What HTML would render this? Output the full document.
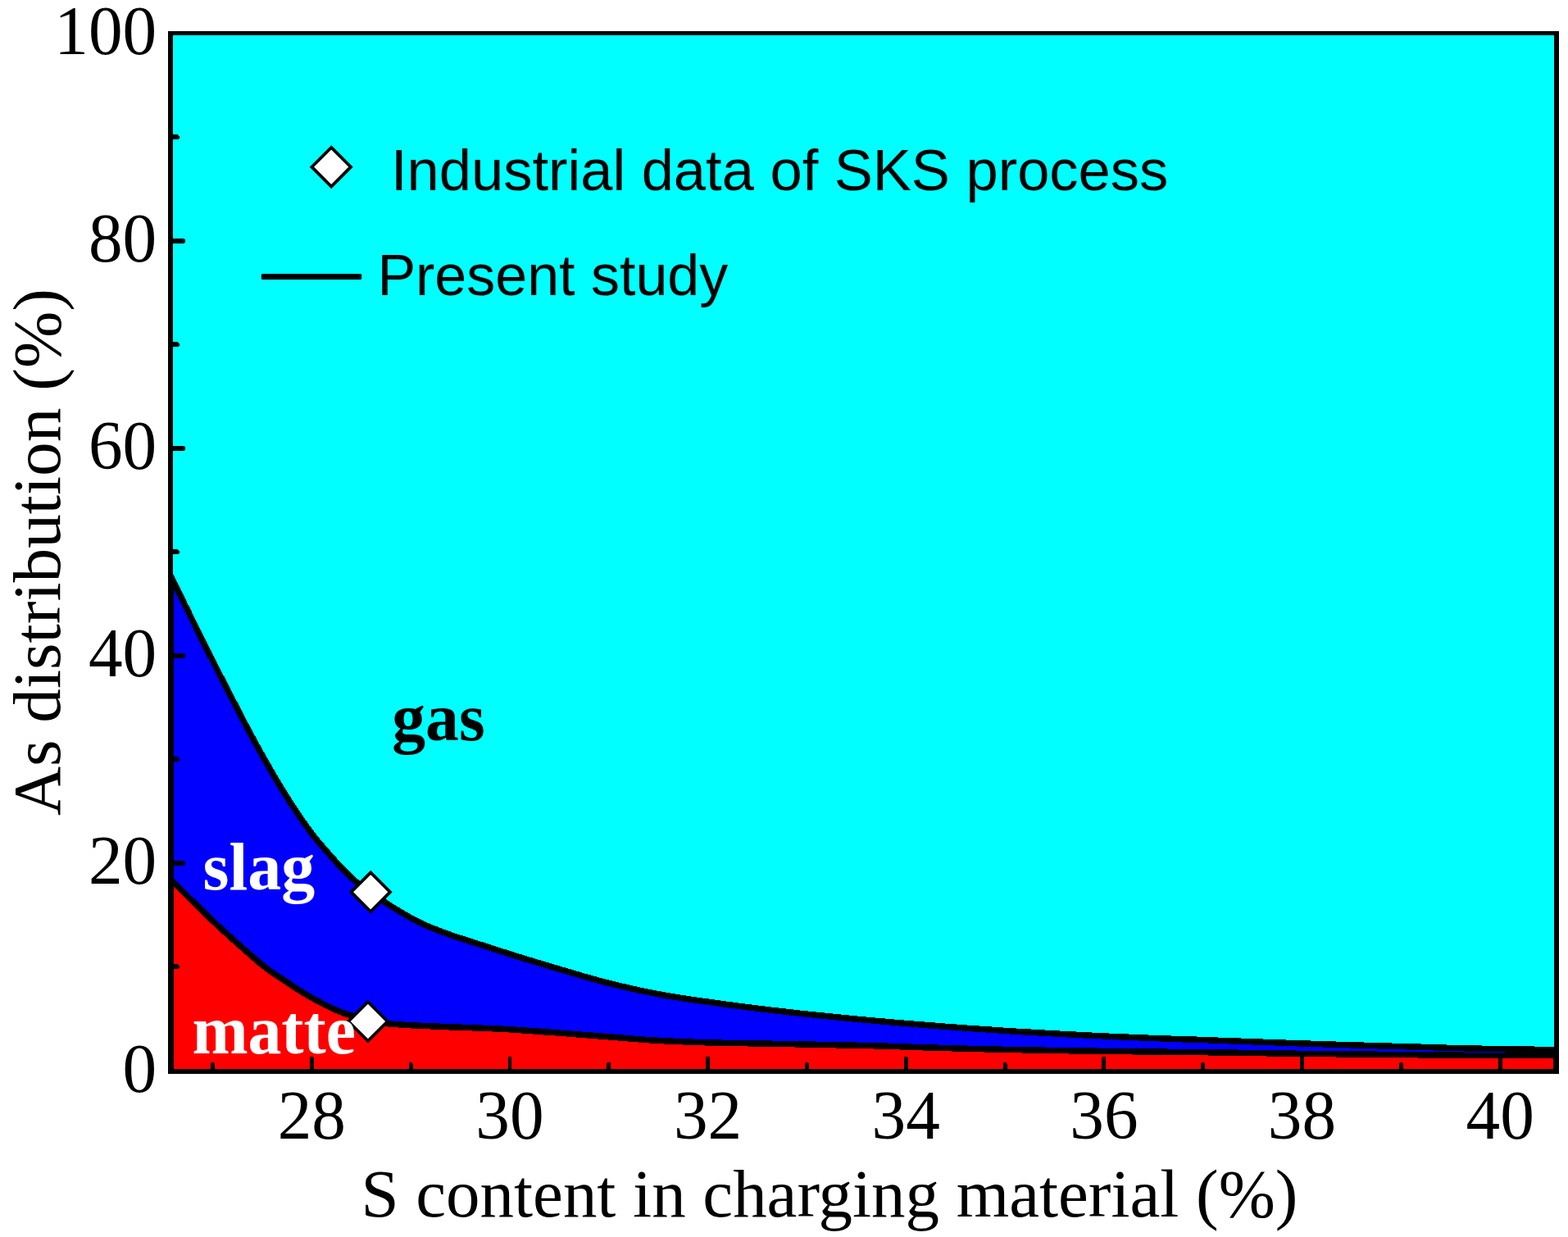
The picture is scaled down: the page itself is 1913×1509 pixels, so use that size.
<!DOCTYPE html>
<html lang="en"><head><meta charset="utf-8"><title>As distribution vs S content in charging material</title>
<style>
html,body{margin:0;padding:0;background:#fff;}
body{width:1913px;height:1509px;overflow:hidden;}
svg{display:block;}
.tk{font-family:"Liberation Serif",serif;font-size:83.3px;fill:#000;}
.lg{font-family:"Liberation Sans",sans-serif;font-size:70.8px;fill:#000;}
.bl{font-family:"Liberation Serif",serif;font-weight:bold;font-size:80px;}
</style></head><body>
<svg width="1913" height="1509" viewBox="0 0 1913 1509">
<rect x="0" y="0" width="1913" height="1509" fill="#fff"/>
<defs><clipPath id="plot"><rect x="208.0" y="41.0" width="1691.2" height="1265.2"/></clipPath></defs>
<g clip-path="url(#plot)" shape-rendering="crispEdges">
<rect x="208.0" y="41.0" width="1691.2" height="1265.2" fill="#00ffff"/>
<path d="M205.0,696.1 L207.9,702.0 L210.8,707.9 L213.7,713.9 L216.6,719.8 L219.6,725.7 L222.5,731.6 L225.4,737.6 L228.3,743.5 L231.2,749.4 L234.1,755.3 L237.0,761.1 L239.9,767.0 L242.9,772.9 L245.8,778.7 L248.7,784.6 L251.6,790.4 L254.5,796.2 L257.4,802.0 L260.3,807.8 L263.2,813.5 L266.1,819.3 L269.1,825.0 L272.0,830.7 L274.9,836.4 L277.8,842.1 L280.7,847.7 L283.6,853.3 L286.5,858.9 L289.4,864.5 L292.4,870.2 L295.3,875.7 L298.2,881.3 L301.1,886.8 L304.0,892.3 L306.9,897.8 L309.8,903.1 L312.7,908.4 L315.6,913.7 L318.6,918.9 L321.5,924.1 L324.4,929.3 L327.3,934.4 L330.2,939.5 L333.1,944.5 L336.0,949.5 L338.9,954.4 L341.9,959.3 L344.8,964.0 L347.7,968.7 L350.6,973.3 L353.5,977.8 L356.4,982.3 L359.3,986.8 L362.2,991.2 L365.1,995.5 L368.1,999.7 L371.0,1003.9 L373.9,1008.0 L376.8,1012.0 L379.7,1015.9 L382.6,1019.7 L385.5,1023.4 L388.4,1026.9 L391.4,1030.3 L394.3,1033.6 L397.2,1037.0 L400.1,1040.4 L403.0,1043.7 L405.9,1047.0 L408.8,1050.2 L411.7,1053.4 L414.6,1056.6 L417.6,1059.7 L420.5,1062.7 L423.4,1065.6 L426.3,1068.4 L429.2,1071.1 L432.1,1073.7 L435.0,1076.2 L437.9,1078.5 L440.9,1080.6 L443.8,1082.6 L446.7,1084.6 L449.6,1086.5 L452.5,1088.5 L455.4,1090.5 L458.3,1092.6 L461.2,1094.6 L464.1,1096.7 L467.1,1098.7 L470.0,1100.7 L472.9,1102.7 L475.8,1104.6 L478.7,1106.5 L481.6,1108.2 L484.5,1110.0 L487.4,1111.7 L490.4,1113.5 L493.3,1115.2 L496.2,1116.8 L499.1,1118.5 L502.0,1120.1 L504.9,1121.7 L507.8,1123.2 L510.7,1124.7 L513.6,1126.1 L516.6,1127.5 L519.5,1128.8 L522.4,1130.0 L525.3,1131.2 L528.2,1132.4 L531.1,1133.6 L534.0,1134.7 L536.9,1135.9 L539.9,1137.0 L542.8,1138.0 L545.7,1139.1 L548.6,1140.1 L551.5,1141.1 L554.4,1142.1 L557.3,1143.1 L560.2,1144.1 L563.1,1145.0 L566.1,1146.0 L569.0,1146.9 L571.9,1147.8 L574.8,1148.8 L577.7,1149.7 L580.6,1150.6 L583.5,1151.5 L586.4,1152.4 L589.4,1153.4 L592.3,1154.3 L595.2,1155.2 L598.1,1156.2 L601.0,1157.1 L603.9,1158.1 L606.8,1159.0 L609.7,1160.0 L612.6,1160.9 L615.6,1161.8 L618.5,1162.7 L621.4,1163.7 L624.3,1164.6 L627.2,1165.5 L630.1,1166.4 L633.0,1167.3 L635.9,1168.2 L638.9,1169.1 L641.8,1170.0 L644.7,1170.9 L647.6,1171.8 L650.5,1172.7 L653.4,1173.6 L656.3,1174.4 L659.2,1175.3 L662.1,1176.2 L665.1,1177.1 L668.0,1177.9 L670.9,1178.8 L673.8,1179.7 L676.7,1180.5 L679.6,1181.4 L682.5,1182.2 L685.4,1183.1 L688.4,1184.0 L691.3,1184.9 L694.2,1185.7 L697.1,1186.6 L700.0,1187.5 L707.1,1189.5 L714.2,1191.6 L721.3,1193.6 L728.4,1195.6 L735.5,1197.5 L742.6,1199.3 L749.7,1201.0 L756.8,1202.7 L763.9,1204.4 L771.0,1206.0 L778.1,1207.6 L785.2,1209.1 L792.3,1210.6 L799.4,1212.0 L806.5,1213.3 L813.6,1214.6 L820.7,1215.8 L827.8,1216.9 L834.9,1218.0 L842.0,1219.1 L849.1,1220.1 L856.2,1221.1 L863.3,1222.1 L870.4,1223.1 L877.5,1224.1 L884.6,1225.1 L891.7,1226.0 L898.8,1227.0 L905.9,1227.9 L913.0,1228.8 L920.1,1229.7 L927.2,1230.6 L934.3,1231.4 L941.4,1232.3 L948.5,1233.1 L955.6,1233.9 L962.7,1234.7 L969.8,1235.5 L976.9,1236.3 L984.0,1237.0 L991.1,1237.8 L998.2,1238.5 L1005.3,1239.3 L1012.4,1240.0 L1019.5,1240.7 L1026.6,1241.4 L1033.7,1242.1 L1040.8,1242.7 L1047.9,1243.4 L1055.0,1244.1 L1062.1,1244.7 L1069.2,1245.3 L1076.3,1246.0 L1083.4,1246.6 L1090.5,1247.2 L1097.6,1247.8 L1104.7,1248.4 L1111.8,1249.0 L1118.9,1249.6 L1126.0,1250.2 L1133.1,1250.7 L1140.2,1251.3 L1147.3,1251.8 L1154.4,1252.4 L1161.5,1252.9 L1168.6,1253.4 L1175.7,1253.9 L1182.8,1254.4 L1189.9,1254.9 L1197.0,1255.4 L1204.1,1255.9 L1211.2,1256.4 L1218.3,1256.8 L1225.4,1257.3 L1232.5,1257.8 L1239.6,1258.2 L1246.7,1258.6 L1253.8,1259.1 L1260.9,1259.5 L1268.0,1259.9 L1275.1,1260.3 L1282.2,1260.7 L1289.3,1261.1 L1296.4,1261.4 L1303.6,1261.8 L1310.7,1262.2 L1317.8,1262.5 L1324.9,1262.9 L1332.0,1263.2 L1339.1,1263.6 L1346.2,1263.9 L1353.3,1264.2 L1360.4,1264.5 L1367.5,1264.9 L1374.6,1265.2 L1381.7,1265.5 L1388.8,1265.8 L1395.9,1266.0 L1403.0,1266.3 L1410.1,1266.6 L1417.2,1266.8 L1424.3,1267.1 L1431.4,1267.3 L1438.5,1267.6 L1445.6,1267.8 L1452.7,1268.0 L1459.8,1268.3 L1466.9,1268.5 L1474.0,1268.8 L1481.1,1269.0 L1488.2,1269.3 L1495.3,1269.6 L1502.4,1269.8 L1509.5,1270.1 L1516.6,1270.4 L1523.7,1270.6 L1530.8,1270.9 L1537.9,1271.2 L1545.0,1271.4 L1552.1,1271.7 L1559.2,1271.9 L1566.3,1272.2 L1573.4,1272.4 L1580.5,1272.7 L1587.6,1272.9 L1594.7,1273.1 L1601.8,1273.4 L1608.9,1273.6 L1616.0,1273.8 L1623.1,1274.0 L1630.2,1274.2 L1637.3,1274.5 L1644.4,1274.7 L1651.5,1274.9 L1658.6,1275.1 L1665.7,1275.3 L1672.8,1275.5 L1679.9,1275.7 L1687.0,1275.9 L1694.1,1276.1 L1701.2,1276.3 L1708.3,1276.5 L1715.4,1276.7 L1722.5,1277.0 L1729.6,1277.2 L1736.7,1277.4 L1743.8,1277.6 L1750.9,1277.8 L1758.0,1278.0 L1765.1,1278.2 L1772.2,1278.4 L1779.3,1278.6 L1786.4,1278.8 L1793.5,1278.9 L1800.6,1279.1 L1807.7,1279.3 L1814.8,1279.4 L1821.9,1279.5 L1829.0,1279.6 L1836.1,1279.8 L1843.2,1279.9 L1850.3,1280.0 L1857.4,1280.1 L1864.5,1280.2 L1871.6,1280.3 L1878.7,1280.4 L1885.8,1280.5 L1892.9,1280.5 L1900.0,1280.6 L1899.2,1307.2 L205.0,1307.2 Z" fill="#0000ff"/>
<path d="M205.0,1069.6 L207.9,1072.5 L210.8,1075.4 L213.7,1078.3 L216.6,1081.2 L219.6,1084.1 L222.5,1087.0 L225.4,1089.9 L228.3,1092.8 L231.2,1095.6 L234.1,1098.5 L237.0,1101.4 L239.9,1104.2 L242.9,1107.1 L245.8,1109.9 L248.7,1112.8 L251.6,1115.6 L254.5,1118.4 L257.4,1121.2 L260.3,1124.0 L263.2,1126.7 L266.1,1129.4 L269.1,1132.2 L272.0,1134.9 L274.9,1137.5 L277.8,1140.2 L280.7,1142.9 L283.6,1145.5 L286.5,1148.1 L289.4,1150.7 L292.4,1153.3 L295.3,1155.8 L298.2,1158.4 L301.1,1161.0 L304.0,1163.5 L306.9,1166.1 L309.8,1168.6 L312.7,1171.2 L315.6,1173.7 L318.6,1176.1 L321.5,1178.4 L324.4,1180.7 L327.3,1182.8 L330.2,1184.9 L333.1,1186.9 L336.0,1188.9 L338.9,1190.9 L341.9,1192.8 L344.8,1194.8 L347.7,1196.7 L350.6,1198.7 L353.5,1200.6 L356.4,1202.5 L359.3,1204.4 L362.2,1206.3 L365.1,1208.1 L368.1,1209.9 L371.0,1211.7 L373.9,1213.4 L376.8,1215.1 L379.7,1216.7 L382.6,1218.3 L385.5,1219.9 L388.4,1221.5 L391.4,1223.1 L394.3,1224.6 L397.2,1226.1 L400.1,1227.6 L403.0,1229.0 L405.9,1230.4 L408.8,1231.7 L411.7,1233.0 L414.6,1234.1 L417.6,1235.2 L420.5,1236.3 L423.4,1237.2 L426.3,1238.1 L429.2,1238.9 L432.1,1239.7 L435.0,1240.5 L437.9,1241.2 L440.9,1241.9 L443.8,1242.6 L446.7,1243.3 L449.6,1244.0 L452.5,1244.6 L455.4,1245.3 L458.3,1246.0 L461.2,1246.6 L464.1,1247.2 L467.1,1247.8 L470.0,1248.3 L472.9,1248.7 L475.8,1249.0 L478.7,1249.2 L481.6,1249.4 L484.5,1249.7 L487.4,1249.9 L490.4,1250.1 L493.3,1250.3 L496.2,1250.4 L499.1,1250.6 L502.0,1250.8 L504.9,1250.9 L507.8,1251.0 L510.7,1251.2 L513.6,1251.3 L516.6,1251.4 L519.5,1251.5 L522.4,1251.7 L525.3,1251.8 L528.2,1251.9 L531.1,1252.0 L534.0,1252.1 L536.9,1252.3 L539.9,1252.4 L542.8,1252.5 L545.7,1252.6 L548.6,1252.7 L551.5,1252.9 L554.4,1253.0 L557.3,1253.1 L560.2,1253.2 L563.1,1253.3 L566.1,1253.4 L569.0,1253.5 L571.9,1253.6 L574.8,1253.7 L577.7,1253.8 L580.6,1253.9 L583.5,1254.0 L586.4,1254.1 L589.4,1254.3 L592.3,1254.4 L595.2,1254.5 L598.1,1254.6 L601.0,1254.7 L603.9,1254.8 L606.8,1255.0 L609.7,1255.1 L612.6,1255.3 L615.6,1255.4 L618.5,1255.6 L621.4,1255.8 L624.3,1256.0 L627.2,1256.1 L630.1,1256.3 L633.0,1256.5 L635.9,1256.7 L638.9,1256.9 L641.8,1257.1 L644.7,1257.3 L647.6,1257.5 L650.5,1257.8 L653.4,1258.0 L656.3,1258.2 L659.2,1258.4 L662.1,1258.6 L665.1,1258.8 L668.0,1259.0 L670.9,1259.3 L673.8,1259.5 L676.7,1259.7 L679.6,1259.9 L682.5,1260.1 L685.4,1260.3 L688.4,1260.6 L691.3,1260.8 L694.2,1261.0 L697.1,1261.2 L700.0,1261.5 L707.1,1262.0 L714.2,1262.6 L721.3,1263.1 L728.4,1263.7 L735.5,1264.3 L742.6,1264.8 L749.7,1265.4 L756.8,1265.9 L763.9,1266.5 L771.0,1267.1 L778.1,1267.7 L785.2,1268.2 L792.3,1268.7 L799.4,1269.2 L806.5,1269.6 L813.6,1269.9 L820.7,1270.3 L827.8,1270.6 L834.9,1270.9 L842.0,1271.1 L849.1,1271.4 L856.2,1271.6 L863.3,1271.8 L870.4,1272.0 L877.5,1272.2 L884.6,1272.3 L891.7,1272.5 L898.8,1272.6 L905.9,1272.7 L913.0,1272.8 L920.1,1272.9 L927.2,1273.0 L934.3,1273.1 L941.4,1273.2 L948.5,1273.3 L955.6,1273.5 L962.7,1273.6 L969.8,1273.7 L976.9,1273.9 L984.0,1274.0 L991.1,1274.2 L998.2,1274.3 L1005.3,1274.5 L1012.4,1274.6 L1019.5,1274.7 L1026.6,1274.9 L1033.7,1275.0 L1040.8,1275.2 L1047.9,1275.3 L1055.0,1275.5 L1062.1,1275.7 L1069.2,1275.8 L1076.3,1276.1 L1083.4,1276.3 L1090.5,1276.5 L1097.6,1276.7 L1104.7,1277.0 L1111.8,1277.2 L1118.9,1277.5 L1126.0,1277.7 L1133.1,1277.9 L1140.2,1278.2 L1147.3,1278.4 L1154.4,1278.6 L1161.5,1278.8 L1168.6,1279.0 L1175.7,1279.1 L1182.8,1279.3 L1189.9,1279.5 L1197.0,1279.7 L1204.1,1279.8 L1211.2,1280.0 L1218.3,1280.2 L1225.4,1280.3 L1232.5,1280.5 L1239.6,1280.6 L1246.7,1280.8 L1253.8,1280.9 L1260.9,1281.0 L1268.0,1281.2 L1275.1,1281.3 L1282.2,1281.4 L1289.3,1281.5 L1296.4,1281.6 L1303.6,1281.7 L1310.7,1281.8 L1317.8,1281.9 L1324.9,1282.0 L1332.0,1282.1 L1339.1,1282.2 L1346.2,1282.3 L1353.3,1282.4 L1360.4,1282.5 L1367.5,1282.6 L1374.6,1282.7 L1381.7,1282.8 L1388.8,1282.8 L1395.9,1282.9 L1403.0,1283.0 L1410.1,1283.1 L1417.2,1283.1 L1424.3,1283.2 L1431.4,1283.3 L1438.5,1283.4 L1445.6,1283.4 L1452.7,1283.5 L1459.8,1283.6 L1466.9,1283.6 L1474.0,1283.7 L1481.1,1283.8 L1488.2,1283.9 L1495.3,1284.0 L1502.4,1284.1 L1509.5,1284.2 L1516.6,1284.3 L1523.7,1284.4 L1530.8,1284.5 L1537.9,1284.6 L1545.0,1284.7 L1552.1,1284.8 L1559.2,1284.9 L1566.3,1285.0 L1573.4,1285.1 L1580.5,1285.2 L1587.6,1285.3 L1594.7,1285.4 L1601.8,1285.5 L1608.9,1285.5 L1616.0,1285.6 L1623.1,1285.7 L1630.2,1285.8 L1637.3,1285.8 L1644.4,1285.9 L1651.5,1286.0 L1658.6,1286.0 L1665.7,1286.1 L1672.8,1286.2 L1679.9,1286.2 L1687.0,1286.3 L1694.1,1286.4 L1701.2,1286.4 L1708.3,1286.5 L1715.4,1286.6 L1722.5,1286.7 L1729.6,1286.7 L1736.7,1286.8 L1743.8,1286.9 L1750.9,1286.9 L1758.0,1287.0 L1765.1,1287.1 L1772.2,1287.1 L1779.3,1287.2 L1786.4,1287.2 L1793.5,1287.3 L1800.6,1287.3 L1807.7,1287.4 L1814.8,1287.4 L1821.9,1287.4 L1829.0,1287.4 L1836.1,1287.5 L1843.2,1287.5 L1850.3,1287.5 L1857.4,1287.5 L1864.5,1287.6 L1871.6,1287.6 L1878.7,1287.6 L1885.8,1287.6 L1892.9,1287.6 L1900.0,1287.6 L1899.2,1307.2 L205.0,1307.2 Z" fill="#ff0000"/>
<path d="M201.6,697.8 L204.5,703.7 L207.5,709.6 L210.4,715.5 L213.3,721.4 L216.2,727.4 L219.1,733.3 L222.0,739.2 L224.9,745.1 L227.8,751.0 L230.8,756.9 L233.7,762.8 L236.6,768.7 L239.5,774.6 L242.4,780.4 L245.3,786.3 L248.2,792.1 L251.1,797.9 L254.1,803.7 L257.0,809.5 L259.9,815.2 L262.8,821.0 L265.7,826.7 L268.6,832.4 L271.5,838.1 L274.5,843.8 L277.4,849.4 L280.3,855.0 L283.2,860.7 L286.1,866.3 L289.0,871.9 L291.9,877.5 L294.9,883.0 L297.8,888.6 L300.7,894.1 L303.6,899.5 L306.5,904.9 L309.5,910.2 L312.4,915.5 L315.3,920.7 L318.2,926.0 L321.1,931.1 L324.0,936.3 L327.0,941.4 L329.9,946.4 L332.8,951.4 L335.7,956.3 L338.6,961.2 L341.6,966.0 L344.5,970.7 L347.4,975.3 L350.3,979.9 L353.3,984.4 L356.2,988.9 L359.1,993.3 L362.0,997.6 L365.0,1001.9 L367.9,1006.1 L370.8,1010.2 L373.8,1014.2 L376.7,1018.2 L379.7,1022.0 L382.6,1025.7 L385.6,1029.3 L388.5,1032.7 L391.4,1036.1 L394.3,1039.5 L397.3,1042.8 L400.2,1046.2 L403.1,1049.5 L406.0,1052.7 L409.0,1056.0 L411.9,1059.1 L414.8,1062.3 L417.8,1065.3 L420.8,1068.3 L423.7,1071.1 L426.7,1073.9 L429.7,1076.5 L432.6,1079.1 L435.7,1081.5 L438.7,1083.7 L441.7,1085.7 L444.6,1087.7 L447.5,1089.6 L450.4,1091.6 L453.3,1093.6 L456.2,1095.6 L459.1,1097.7 L462.0,1099.7 L464.9,1101.8 L467.9,1103.8 L470.8,1105.8 L473.8,1107.7 L476.7,1109.6 L479.7,1111.4 L482.6,1113.2 L485.5,1115.0 L488.5,1116.7 L491.4,1118.4 L494.3,1120.1 L497.3,1121.8 L500.2,1123.4 L503.2,1125.0 L506.1,1126.5 L509.1,1128.0 L512.0,1129.5 L515.0,1130.9 L518.0,1132.2 L520.9,1133.5 L523.9,1134.7 L526.8,1135.9 L529.7,1137.1 L532.7,1138.2 L535.6,1139.4 L538.5,1140.5 L541.5,1141.5 L544.4,1142.6 L547.3,1143.6 L550.3,1144.7 L553.2,1145.7 L556.1,1146.6 L559.1,1147.6 L562.0,1148.6 L564.9,1149.5 L567.8,1150.5 L570.7,1151.4 L573.7,1152.3 L576.6,1153.3 L579.5,1154.2 L582.4,1155.1 L585.3,1156.0 L588.2,1156.9 L591.1,1157.9 L594.0,1158.8 L596.9,1159.7 L599.8,1160.7 L602.8,1161.6 L605.7,1162.6 L608.6,1163.5 L611.5,1164.5 L614.4,1165.4 L617.3,1166.3 L620.3,1167.2 L623.2,1168.2 L626.1,1169.1 L629.0,1170.0 L631.9,1170.9 L634.8,1171.8 L637.7,1172.7 L640.7,1173.6 L643.6,1174.5 L646.5,1175.4 L649.4,1176.3 L652.3,1177.1 L655.2,1178.0 L658.2,1178.9 L661.1,1179.8 L664.0,1180.6 L666.9,1181.5 L669.8,1182.4 L672.7,1183.3 L675.6,1184.1 L678.6,1185.0 L681.5,1185.8 L684.4,1186.7 L687.3,1187.6 L690.2,1188.4 L693.1,1189.3 L696.0,1190.2 L698.9,1191.0 L706.0,1193.1 L713.2,1195.2 L720.3,1197.2 L727.4,1199.2 L734.6,1201.1 L741.7,1202.9 L748.8,1204.7 L755.9,1206.4 L763.1,1208.1 L770.2,1209.7 L777.3,1211.3 L784.4,1212.8 L791.6,1214.3 L798.7,1215.7 L805.8,1217.0 L813.0,1218.3 L820.1,1219.5 L827.2,1220.6 L834.3,1221.7 L841.5,1222.8 L848.6,1223.8 L855.7,1224.9 L862.8,1225.9 L869.9,1226.8 L877.0,1227.8 L884.1,1228.8 L891.2,1229.8 L898.3,1230.7 L905.4,1231.6 L912.5,1232.5 L919.7,1233.4 L926.8,1234.3 L933.9,1235.2 L941.0,1236.0 L948.1,1236.8 L955.2,1237.7 L962.3,1238.5 L969.4,1239.2 L976.5,1240.0 L983.6,1240.8 L990.7,1241.5 L997.8,1242.3 L1004.9,1243.0 L1012.1,1243.7 L1019.2,1244.4 L1026.3,1245.1 L1033.4,1245.8 L1040.5,1246.5 L1047.6,1247.1 L1054.7,1247.8 L1061.8,1248.4 L1068.9,1249.1 L1076.0,1249.7 L1083.1,1250.3 L1090.2,1250.9 L1097.3,1251.5 L1104.4,1252.1 L1111.5,1252.7 L1118.6,1253.3 L1125.7,1253.9 L1132.8,1254.5 L1139.9,1255.0 L1147.1,1255.6 L1154.2,1256.1 L1161.3,1256.6 L1168.4,1257.1 L1175.5,1257.7 L1182.6,1258.2 L1189.7,1258.7 L1196.8,1259.1 L1203.9,1259.6 L1211.0,1260.1 L1218.1,1260.6 L1225.2,1261.0 L1232.3,1261.5 L1239.4,1261.9 L1246.5,1262.4 L1253.6,1262.8 L1260.7,1263.2 L1267.8,1263.6 L1274.9,1264.0 L1282.0,1264.4 L1289.1,1264.8 L1296.3,1265.2 L1303.4,1265.6 L1310.5,1265.9 L1317.6,1266.3 L1324.7,1266.6 L1331.8,1267.0 L1338.9,1267.3 L1346.0,1267.6 L1353.1,1268.0 L1360.2,1268.3 L1367.3,1268.6 L1374.4,1268.9 L1381.5,1269.2 L1388.6,1269.5 L1395.7,1269.8 L1402.8,1270.1 L1409.9,1270.3 L1417.0,1270.6 L1424.1,1270.8 L1431.2,1271.1 L1438.3,1271.3 L1445.4,1271.6 L1452.5,1271.8 L1459.6,1272.0 L1466.7,1272.3 L1473.8,1272.5 L1480.9,1272.8 L1488.0,1273.0 L1495.1,1273.3 L1502.2,1273.6 L1509.3,1273.8 L1516.4,1274.1 L1523.5,1274.4 L1530.6,1274.6 L1537.7,1274.9 L1544.8,1275.2 L1551.9,1275.4 L1559.0,1275.7 L1566.1,1275.9 L1573.2,1276.2 L1580.3,1276.4 L1587.5,1276.7 L1594.6,1276.9 L1601.7,1277.1 L1608.8,1277.3 L1615.9,1277.6 L1623.0,1277.8 L1630.1,1278.0 L1637.2,1278.2 L1644.3,1278.4 L1651.4,1278.6 L1658.5,1278.8 L1665.6,1279.0 L1672.7,1279.3 L1679.8,1279.5 L1686.9,1279.7 L1694.0,1279.9 L1701.1,1280.1 L1708.2,1280.3 L1715.3,1280.5 L1722.4,1280.7 L1729.5,1280.9 L1736.6,1281.1 L1743.7,1281.3 L1750.8,1281.6 L1757.9,1281.8 L1765.0,1282.0 L1772.1,1282.2 L1779.2,1282.3 L1786.3,1282.5 L1793.4,1282.7 L1800.5,1282.9 L1807.6,1283.0 L1814.7,1283.1 L1821.8,1283.3 L1828.9,1283.4 L1836.0,1283.5 L1843.1,1283.6 L1850.2,1283.7 L1857.3,1283.8 L1864.4,1283.9 L1871.5,1284.0 L1878.7,1284.1 L1885.8,1284.2 L1892.9,1284.3 L1900.0,1284.3 L1900.0,1276.9 L1892.9,1276.8 L1885.8,1276.7 L1878.7,1276.6 L1871.6,1276.5 L1864.5,1276.4 L1857.5,1276.3 L1850.4,1276.2 L1843.3,1276.1 L1836.2,1276.0 L1829.1,1275.9 L1822.0,1275.8 L1814.9,1275.6 L1807.8,1275.5 L1800.7,1275.4 L1793.6,1275.2 L1786.5,1275.0 L1779.4,1274.8 L1772.3,1274.7 L1765.2,1274.5 L1758.1,1274.3 L1751.0,1274.1 L1743.9,1273.8 L1736.8,1273.6 L1729.7,1273.4 L1722.6,1273.2 L1715.5,1273.0 L1708.4,1272.8 L1701.3,1272.6 L1694.2,1272.4 L1687.1,1272.2 L1680.0,1272.0 L1672.9,1271.8 L1665.8,1271.6 L1658.7,1271.3 L1651.6,1271.1 L1644.5,1270.9 L1637.4,1270.7 L1630.3,1270.5 L1623.2,1270.3 L1616.1,1270.1 L1609.0,1269.8 L1601.9,1269.6 L1594.8,1269.4 L1587.7,1269.2 L1580.6,1268.9 L1573.5,1268.7 L1566.4,1268.4 L1559.3,1268.2 L1552.2,1267.9 L1545.1,1267.7 L1538.0,1267.4 L1530.9,1267.1 L1523.8,1266.9 L1516.7,1266.6 L1509.6,1266.3 L1502.5,1266.1 L1495.4,1265.8 L1488.3,1265.6 L1481.2,1265.3 L1474.1,1265.0 L1467.0,1264.8 L1459.9,1264.5 L1452.8,1264.3 L1445.7,1264.1 L1438.6,1263.8 L1431.5,1263.6 L1424.4,1263.3 L1417.3,1263.1 L1410.2,1262.8 L1403.1,1262.6 L1396.0,1262.3 L1388.9,1262.0 L1381.8,1261.7 L1374.7,1261.4 L1367.6,1261.1 L1360.5,1260.8 L1353.4,1260.5 L1346.3,1260.2 L1339.2,1259.8 L1332.1,1259.5 L1325.0,1259.1 L1317.9,1258.8 L1310.8,1258.4 L1303.7,1258.1 L1296.6,1257.7 L1289.6,1257.3 L1282.5,1256.9 L1275.4,1256.5 L1268.3,1256.1 L1261.2,1255.7 L1254.1,1255.3 L1247.0,1254.9 L1239.9,1254.5 L1232.8,1254.0 L1225.7,1253.6 L1218.6,1253.1 L1211.5,1252.6 L1204.4,1252.2 L1197.3,1251.7 L1190.2,1251.2 L1183.1,1250.7 L1176.0,1250.2 L1168.9,1249.7 L1161.8,1249.1 L1154.7,1248.6 L1147.6,1248.1 L1140.5,1247.5 L1133.4,1247.0 L1126.3,1246.4 L1119.2,1245.8 L1112.1,1245.3 L1105.0,1244.7 L1098.0,1244.1 L1090.9,1243.5 L1083.8,1242.8 L1076.7,1242.2 L1069.6,1241.6 L1062.5,1241.0 L1055.4,1240.3 L1048.3,1239.7 L1041.2,1239.0 L1034.1,1238.3 L1027.0,1237.6 L1019.9,1237.0 L1012.8,1236.2 L1005.7,1235.5 L998.6,1234.8 L991.5,1234.1 L984.4,1233.3 L977.3,1232.6 L970.2,1231.8 L963.1,1231.0 L956.0,1230.2 L949.0,1229.4 L941.9,1228.6 L934.8,1227.7 L927.7,1226.9 L920.6,1226.0 L913.5,1225.1 L906.4,1224.2 L899.3,1223.3 L892.2,1222.3 L885.1,1221.4 L878.0,1220.4 L870.9,1219.4 L863.8,1218.4 L856.7,1217.4 L849.6,1216.4 L842.6,1215.4 L835.5,1214.3 L828.4,1213.2 L821.3,1212.1 L814.2,1210.9 L807.2,1209.6 L800.1,1208.3 L793.0,1206.9 L786.0,1205.5 L778.9,1204.0 L771.8,1202.4 L764.8,1200.8 L757.7,1199.1 L750.6,1197.4 L743.5,1195.6 L736.4,1193.8 L729.4,1192.0 L722.3,1190.0 L715.2,1188.0 L708.2,1186.0 L701.1,1183.9 L698.2,1183.0 L695.2,1182.1 L692.3,1181.3 L689.4,1180.4 L686.5,1179.5 L683.6,1178.7 L680.7,1177.8 L677.8,1176.9 L674.9,1176.1 L672.0,1175.2 L669.0,1174.3 L666.1,1173.5 L663.2,1172.6 L660.3,1171.7 L657.4,1170.8 L654.5,1170.0 L651.6,1169.1 L648.7,1168.2 L645.8,1167.3 L642.9,1166.4 L640.0,1165.5 L637.0,1164.6 L634.1,1163.7 L631.2,1162.8 L628.3,1161.9 L625.4,1161.0 L622.5,1160.1 L619.6,1159.2 L616.7,1158.2 L613.8,1157.3 L610.9,1156.4 L608.0,1155.4 L605.1,1154.5 L602.2,1153.6 L599.2,1152.6 L596.3,1151.7 L593.4,1150.7 L590.5,1149.8 L587.6,1148.9 L584.7,1147.9 L581.7,1147.0 L578.8,1146.1 L575.9,1145.2 L573.0,1144.3 L570.1,1143.3 L567.2,1142.4 L564.3,1141.4 L561.4,1140.5 L558.5,1139.5 L555.6,1138.6 L552.7,1137.6 L549.8,1136.6 L546.9,1135.5 L544.0,1134.5 L541.2,1133.4 L538.3,1132.4 L535.4,1131.2 L532.5,1130.1 L529.6,1129.0 L526.7,1127.8 L523.9,1126.6 L521.0,1125.3 L518.1,1124.1 L515.3,1122.7 L512.4,1121.3 L509.5,1119.9 L506.7,1118.4 L503.8,1116.8 L500.9,1115.2 L498.0,1113.6 L495.1,1111.9 L492.3,1110.2 L489.4,1108.5 L486.5,1106.8 L483.6,1105.0 L480.7,1103.3 L477.8,1101.5 L475.0,1099.6 L472.1,1097.6 L469.2,1095.6 L466.3,1093.6 L463.4,1091.5 L460.5,1089.5 L457.6,1087.4 L454.6,1085.4 L451.7,1083.4 L448.7,1081.4 L445.9,1079.5 L443.0,1077.6 L440.2,1075.5 L437.4,1073.3 L434.6,1070.9 L431.7,1068.3 L428.9,1065.7 L426.0,1062.9 L423.1,1060.0 L420.3,1057.1 L417.4,1054.0 L414.5,1050.9 L411.6,1047.7 L408.7,1044.5 L405.8,1041.2 L402.9,1037.9 L400.0,1034.5 L397.1,1031.2 L394.2,1027.8 L391.3,1024.5 L388.4,1021.0 L385.6,1017.4 L382.7,1013.6 L379.8,1009.8 L376.9,1005.8 L374.0,1001.7 L371.1,997.6 L368.2,993.4 L365.4,989.1 L362.5,984.7 L359.6,980.3 L356.7,975.8 L353.8,971.3 L350.9,966.7 L348.0,962.0 L345.1,957.3 L342.2,952.5 L339.3,947.6 L336.4,942.6 L333.5,937.6 L330.6,932.6 L327.6,927.4 L324.7,922.3 L321.8,917.1 L318.9,911.9 L316.0,906.6 L313.1,901.3 L310.2,896.0 L307.3,890.6 L304.4,885.1 L301.5,879.6 L298.6,874.0 L295.7,868.4 L292.8,862.8 L289.9,857.2 L286.9,851.6 L284.0,846.0 L281.1,840.3 L278.2,834.7 L275.3,829.0 L272.4,823.3 L269.5,817.6 L266.6,811.8 L263.7,806.1 L260.8,800.3 L257.9,794.5 L254.9,788.7 L252.0,782.9 L249.1,777.1 L246.2,771.2 L243.3,765.4 L240.4,759.5 L237.5,753.6 L234.6,747.7 L231.7,741.8 L228.7,735.9 L225.8,730.0 L222.9,724.1 L220.0,718.1 L217.1,712.2 L214.2,706.3 L211.3,700.4 L208.4,694.4 Z" fill="#000"/>
<path d="M202.3,1072.2 L205.3,1075.2 L208.2,1078.1 L211.1,1081.0 L214.0,1083.9 L216.9,1086.8 L219.8,1089.6 L222.7,1092.5 L225.7,1095.4 L228.6,1098.3 L231.5,1101.2 L234.4,1104.1 L237.3,1106.9 L240.2,1109.8 L243.1,1112.6 L246.1,1115.5 L249.0,1118.3 L251.9,1121.1 L254.8,1123.9 L257.7,1126.7 L260.7,1129.4 L263.6,1132.2 L266.5,1134.9 L269.4,1137.6 L272.3,1140.3 L275.3,1143.0 L278.2,1145.6 L281.1,1148.3 L284.0,1150.9 L286.9,1153.5 L289.9,1156.1 L292.8,1158.7 L295.7,1161.2 L298.6,1163.8 L301.5,1166.3 L304.4,1168.9 L307.4,1171.5 L310.3,1174.0 L313.2,1176.5 L316.2,1179.0 L319.1,1181.4 L322.1,1183.7 L325.1,1185.9 L328.0,1188.0 L331.0,1190.0 L333.9,1192.0 L336.9,1194.0 L339.8,1196.0 L342.7,1197.9 L345.6,1199.8 L348.5,1201.8 L351.4,1203.7 L354.4,1205.7 L357.3,1207.6 L360.2,1209.4 L363.2,1211.3 L366.1,1213.1 L369.0,1214.9 L372.0,1216.7 L374.9,1218.4 L377.9,1220.0 L380.8,1221.6 L383.7,1223.2 L386.7,1224.8 L389.6,1226.4 L392.5,1227.9 L395.5,1229.4 L398.4,1230.9 L401.4,1232.4 L404.3,1233.8 L407.3,1235.1 L410.3,1236.4 L413.3,1237.6 L416.3,1238.8 L419.3,1239.8 L422.3,1240.8 L425.2,1241.7 L428.2,1242.5 L431.1,1243.4 L434.1,1244.1 L437.0,1244.9 L440.0,1245.6 L442.9,1246.3 L445.8,1247.0 L448.8,1247.6 L451.7,1248.3 L454.6,1249.0 L457.5,1249.6 L460.4,1250.3 L463.4,1250.9 L466.4,1251.5 L469.4,1252.0 L472.4,1252.4 L475.4,1252.7 L478.4,1252.9 L481.3,1253.2 L484.3,1253.4 L487.2,1253.6 L490.1,1253.8 L493.0,1254.0 L496.0,1254.2 L498.9,1254.3 L501.8,1254.5 L504.7,1254.6 L507.6,1254.8 L510.6,1254.9 L513.5,1255.0 L516.4,1255.2 L519.3,1255.3 L522.2,1255.4 L525.1,1255.5 L528.1,1255.6 L531.0,1255.8 L533.9,1255.9 L536.8,1256.0 L539.7,1256.1 L542.6,1256.2 L545.5,1256.4 L548.4,1256.5 L551.4,1256.6 L554.3,1256.7 L557.2,1256.8 L560.1,1256.9 L563.0,1257.0 L565.9,1257.1 L568.8,1257.2 L571.7,1257.3 L574.7,1257.4 L577.6,1257.6 L580.5,1257.7 L583.4,1257.8 L586.3,1257.9 L589.2,1258.0 L592.1,1258.1 L595.0,1258.2 L597.9,1258.3 L600.8,1258.5 L603.7,1258.6 L606.6,1258.7 L609.5,1258.9 L612.4,1259.0 L615.3,1259.2 L618.3,1259.3 L621.2,1259.5 L624.1,1259.7 L627.0,1259.9 L629.9,1260.1 L632.8,1260.3 L635.7,1260.5 L638.6,1260.7 L641.5,1260.9 L644.4,1261.1 L647.3,1261.3 L650.2,1261.5 L653.1,1261.7 L656.0,1261.9 L659.0,1262.1 L661.9,1262.4 L664.8,1262.6 L667.7,1262.8 L670.6,1263.0 L673.5,1263.2 L676.4,1263.4 L679.3,1263.6 L682.2,1263.9 L685.2,1264.1 L688.1,1264.3 L691.0,1264.5 L693.9,1264.7 L696.8,1265.0 L699.7,1265.2 L706.8,1265.8 L713.9,1266.3 L721.0,1266.9 L728.1,1267.4 L735.2,1268.0 L742.3,1268.5 L749.4,1269.1 L756.5,1269.7 L763.6,1270.3 L770.7,1270.9 L777.8,1271.4 L784.9,1272.0 L792.1,1272.5 L799.2,1272.9 L806.3,1273.3 L813.4,1273.7 L820.5,1274.0 L827.7,1274.3 L834.8,1274.6 L841.9,1274.9 L849.0,1275.1 L856.1,1275.4 L863.2,1275.6 L870.3,1275.8 L877.4,1275.9 L884.5,1276.1 L891.7,1276.2 L898.8,1276.3 L905.9,1276.4 L913.0,1276.5 L920.1,1276.6 L927.2,1276.7 L934.3,1276.8 L941.4,1277.0 L948.5,1277.1 L955.6,1277.2 L962.7,1277.4 L969.7,1277.5 L976.8,1277.6 L983.9,1277.8 L991.0,1277.9 L998.1,1278.1 L1005.2,1278.2 L1012.4,1278.3 L1019.5,1278.5 L1026.6,1278.6 L1033.7,1278.8 L1040.7,1278.9 L1047.8,1279.1 L1054.9,1279.2 L1062.0,1279.4 L1069.1,1279.6 L1076.2,1279.8 L1083.3,1280.0 L1090.4,1280.3 L1097.5,1280.5 L1104.6,1280.7 L1111.7,1281.0 L1118.8,1281.2 L1125.9,1281.5 L1133.0,1281.7 L1140.1,1281.9 L1147.2,1282.1 L1154.3,1282.3 L1161.4,1282.5 L1168.5,1282.7 L1175.6,1282.9 L1182.7,1283.1 L1189.8,1283.2 L1197.0,1283.4 L1204.1,1283.6 L1211.2,1283.8 L1218.3,1283.9 L1225.4,1284.1 L1232.5,1284.2 L1239.6,1284.4 L1246.7,1284.5 L1253.8,1284.7 L1260.9,1284.8 L1268.0,1284.9 L1275.1,1285.0 L1282.2,1285.2 L1289.3,1285.3 L1296.4,1285.4 L1303.5,1285.5 L1310.6,1285.6 L1317.7,1285.7 L1324.8,1285.8 L1331.9,1285.9 L1339.0,1286.0 L1346.1,1286.1 L1353.2,1286.2 L1360.3,1286.3 L1367.4,1286.3 L1374.5,1286.4 L1381.6,1286.5 L1388.7,1286.6 L1395.8,1286.7 L1402.9,1286.8 L1410.0,1286.8 L1417.1,1286.9 L1424.2,1287.0 L1431.3,1287.0 L1438.4,1287.1 L1445.5,1287.2 L1452.6,1287.2 L1459.7,1287.3 L1466.8,1287.4 L1473.9,1287.5 L1481.0,1287.6 L1488.1,1287.7 L1495.2,1287.7 L1502.3,1287.8 L1509.4,1288.0 L1516.5,1288.1 L1523.6,1288.2 L1530.7,1288.3 L1537.8,1288.4 L1544.9,1288.5 L1552.0,1288.6 L1559.1,1288.7 L1566.2,1288.8 L1573.3,1288.9 L1580.4,1289.0 L1587.5,1289.1 L1594.6,1289.1 L1601.7,1289.2 L1608.8,1289.3 L1615.9,1289.4 L1623.0,1289.4 L1630.1,1289.5 L1637.2,1289.6 L1644.3,1289.7 L1651.4,1289.7 L1658.5,1289.8 L1665.6,1289.9 L1672.7,1289.9 L1679.8,1290.0 L1686.9,1290.1 L1694.0,1290.1 L1701.1,1290.2 L1708.2,1290.3 L1715.3,1290.3 L1722.4,1290.4 L1729.5,1290.5 L1736.6,1290.5 L1743.7,1290.6 L1750.9,1290.7 L1758.0,1290.8 L1765.1,1290.8 L1772.2,1290.9 L1779.3,1290.9 L1786.4,1291.0 L1793.5,1291.0 L1800.6,1291.1 L1807.7,1291.1 L1814.8,1291.1 L1821.9,1291.2 L1829.0,1291.2 L1836.1,1291.2 L1843.2,1291.2 L1850.3,1291.3 L1857.4,1291.3 L1864.5,1291.3 L1871.6,1291.3 L1878.7,1291.3 L1885.8,1291.3 L1892.9,1291.3 L1900.0,1291.3 L1900.0,1283.9 L1892.9,1283.8 L1885.8,1283.8 L1878.7,1283.8 L1871.6,1283.8 L1864.5,1283.8 L1857.4,1283.8 L1850.3,1283.8 L1843.2,1283.7 L1836.1,1283.7 L1829.0,1283.7 L1821.9,1283.7 L1814.8,1283.6 L1807.7,1283.6 L1800.6,1283.6 L1793.5,1283.5 L1786.4,1283.5 L1779.3,1283.4 L1772.2,1283.4 L1765.1,1283.3 L1758.0,1283.3 L1750.9,1283.2 L1743.8,1283.1 L1736.7,1283.0 L1729.6,1283.0 L1722.5,1282.9 L1715.4,1282.8 L1708.3,1282.8 L1701.2,1282.7 L1694.1,1282.6 L1687.0,1282.6 L1679.9,1282.5 L1672.8,1282.4 L1665.7,1282.4 L1658.6,1282.3 L1651.5,1282.2 L1644.4,1282.2 L1637.3,1282.1 L1630.2,1282.0 L1623.1,1281.9 L1616.0,1281.9 L1608.9,1281.8 L1601.8,1281.7 L1594.7,1281.6 L1587.6,1281.6 L1580.5,1281.5 L1573.4,1281.4 L1566.3,1281.3 L1559.2,1281.2 L1552.1,1281.1 L1545.0,1281.0 L1537.9,1280.9 L1530.8,1280.8 L1523.7,1280.7 L1516.6,1280.6 L1509.5,1280.5 L1502.4,1280.3 L1495.3,1280.2 L1488.2,1280.2 L1481.1,1280.1 L1474.0,1280.0 L1466.9,1279.9 L1459.8,1279.8 L1452.7,1279.7 L1445.6,1279.7 L1438.5,1279.6 L1431.4,1279.5 L1424.3,1279.5 L1417.2,1279.4 L1410.1,1279.3 L1403.0,1279.3 L1395.9,1279.2 L1388.8,1279.1 L1381.7,1279.0 L1374.6,1278.9 L1367.5,1278.8 L1360.4,1278.8 L1353.3,1278.7 L1346.2,1278.6 L1339.1,1278.5 L1332.0,1278.4 L1324.9,1278.3 L1317.8,1278.2 L1310.7,1278.1 L1303.6,1278.0 L1296.5,1277.9 L1289.4,1277.8 L1282.3,1277.7 L1275.2,1277.5 L1268.1,1277.4 L1261.0,1277.3 L1253.9,1277.2 L1246.8,1277.0 L1239.7,1276.9 L1232.6,1276.7 L1225.5,1276.6 L1218.4,1276.4 L1211.3,1276.3 L1204.2,1276.1 L1197.1,1275.9 L1190.0,1275.7 L1182.9,1275.6 L1175.8,1275.4 L1168.7,1275.2 L1161.6,1275.0 L1154.5,1274.8 L1147.4,1274.6 L1140.4,1274.4 L1133.3,1274.2 L1126.2,1274.0 L1119.1,1273.7 L1112.0,1273.5 L1104.9,1273.2 L1097.8,1273.0 L1090.7,1272.8 L1083.6,1272.5 L1076.4,1272.3 L1069.3,1272.1 L1062.2,1271.9 L1055.1,1271.7 L1048.0,1271.6 L1040.9,1271.4 L1033.8,1271.3 L1026.7,1271.1 L1019.6,1271.0 L1012.5,1270.8 L1005.4,1270.7 L998.3,1270.6 L991.2,1270.4 L984.1,1270.3 L977.0,1270.1 L969.9,1270.0 L962.8,1269.9 L955.7,1269.7 L948.6,1269.6 L941.5,1269.5 L934.4,1269.3 L927.3,1269.2 L920.2,1269.1 L913.1,1269.0 L906.0,1268.9 L898.9,1268.8 L891.8,1268.7 L884.7,1268.6 L877.6,1268.4 L870.5,1268.3 L863.4,1268.1 L856.3,1267.9 L849.2,1267.6 L842.2,1267.4 L835.1,1267.1 L828.0,1266.8 L820.9,1266.5 L813.8,1266.2 L806.7,1265.8 L799.6,1265.4 L792.6,1265.0 L785.5,1264.5 L778.4,1264.0 L771.3,1263.4 L764.2,1262.8 L757.1,1262.2 L750.0,1261.6 L742.9,1261.1 L735.8,1260.5 L728.7,1260.0 L721.6,1259.4 L714.5,1258.8 L707.4,1258.3 L700.3,1257.7 L697.4,1257.5 L694.5,1257.3 L691.6,1257.0 L688.6,1256.8 L685.7,1256.6 L682.8,1256.4 L679.9,1256.2 L677.0,1255.9 L674.1,1255.7 L671.2,1255.5 L668.2,1255.3 L665.3,1255.1 L662.4,1254.9 L659.5,1254.7 L656.6,1254.4 L653.7,1254.2 L650.8,1254.0 L647.9,1253.8 L644.9,1253.6 L642.0,1253.4 L639.1,1253.2 L636.2,1253.0 L633.3,1252.8 L630.4,1252.6 L627.4,1252.4 L624.5,1252.2 L621.6,1252.0 L618.7,1251.9 L615.8,1251.7 L612.8,1251.5 L609.9,1251.4 L607.0,1251.2 L604.1,1251.1 L601.2,1251.0 L598.2,1250.8 L595.3,1250.7 L592.4,1250.6 L589.5,1250.5 L586.6,1250.4 L583.7,1250.3 L580.8,1250.2 L577.8,1250.1 L574.9,1250.0 L572.0,1249.8 L569.1,1249.7 L566.2,1249.6 L563.3,1249.5 L560.4,1249.4 L557.5,1249.3 L554.6,1249.2 L551.6,1249.1 L548.7,1249.0 L545.8,1248.9 L542.9,1248.8 L540.0,1248.6 L537.1,1248.5 L534.2,1248.4 L531.3,1248.3 L528.4,1248.1 L525.4,1248.0 L522.5,1247.9 L519.6,1247.8 L516.7,1247.7 L513.8,1247.6 L510.9,1247.4 L508.0,1247.3 L505.1,1247.2 L502.2,1247.0 L499.3,1246.9 L496.4,1246.7 L493.5,1246.5 L490.6,1246.3 L487.7,1246.1 L484.8,1245.9 L481.9,1245.7 L479.0,1245.5 L476.1,1245.2 L473.3,1244.9 L470.5,1244.5 L467.7,1244.1 L464.9,1243.5 L462.0,1242.9 L459.1,1242.3 L456.3,1241.6 L453.3,1241.0 L450.4,1240.3 L447.5,1239.6 L444.6,1239.0 L441.7,1238.3 L438.8,1237.6 L436.0,1236.9 L433.1,1236.1 L430.2,1235.3 L427.4,1234.5 L424.5,1233.6 L421.7,1232.7 L418.8,1231.7 L416.0,1230.7 L413.2,1229.5 L410.3,1228.3 L407.5,1227.0 L404.6,1225.6 L401.8,1224.2 L398.9,1222.8 L396.0,1221.3 L393.1,1219.8 L390.2,1218.2 L387.3,1216.6 L384.4,1215.0 L381.5,1213.5 L378.6,1211.9 L375.8,1210.2 L372.9,1208.5 L370.0,1206.7 L367.1,1205.0 L364.3,1203.1 L361.4,1201.3 L358.5,1199.4 L355.6,1197.5 L352.7,1195.5 L349.8,1193.6 L346.8,1191.7 L343.9,1189.7 L341.0,1187.8 L338.1,1185.8 L335.2,1183.9 L332.4,1181.9 L329.5,1179.8 L326.6,1177.7 L323.8,1175.5 L320.9,1173.2 L318.1,1170.8 L315.2,1168.3 L312.3,1165.8 L309.4,1163.3 L306.5,1160.7 L303.6,1158.1 L300.6,1155.6 L297.7,1153.0 L294.8,1150.5 L291.9,1147.9 L289.0,1145.3 L286.1,1142.7 L283.2,1140.1 L280.3,1137.4 L277.4,1134.8 L274.5,1132.1 L271.6,1129.4 L268.7,1126.7 L265.8,1124.0 L262.9,1121.2 L260.0,1118.5 L257.1,1115.7 L254.2,1112.9 L251.3,1110.1 L248.4,1107.2 L245.5,1104.4 L242.6,1101.6 L239.7,1098.7 L236.8,1095.8 L233.8,1093.0 L230.9,1090.1 L228.0,1087.2 L225.1,1084.3 L222.2,1081.4 L219.3,1078.5 L216.4,1075.7 L213.5,1072.8 L210.6,1069.9 L207.7,1067.0 Z" fill="#000"/>
<rect x="211.0" y="712" width="1" height="600" fill="#000"/>
<rect x="1895.2" y="1278" width="2" height="30" fill="#000"/>
</g>
<g fill="#000" shape-rendering="crispEdges">
<rect x="257.05" y="1296.2" width="4.9" height="12.0" rx="1.6"/><rect x="377.87" y="1288.8" width="4.9" height="19.4" rx="1.6"/><rect x="498.69" y="1296.2" width="4.9" height="12.0" rx="1.6"/><rect x="619.51" y="1288.8" width="4.9" height="19.4" rx="1.6"/><rect x="740.33" y="1296.2" width="4.9" height="12.0" rx="1.6"/><rect x="861.15" y="1288.8" width="4.9" height="19.4" rx="1.6"/><rect x="981.97" y="1296.2" width="4.9" height="12.0" rx="1.6"/><rect x="1102.79" y="1288.8" width="4.9" height="19.4" rx="1.6"/><rect x="1223.61" y="1296.2" width="4.9" height="12.0" rx="1.6"/><rect x="1344.43" y="1288.8" width="4.9" height="19.4" rx="1.6"/><rect x="1465.25" y="1296.2" width="4.9" height="12.0" rx="1.6"/><rect x="1586.07" y="1288.8" width="4.9" height="19.4" rx="1.6"/><rect x="1706.89" y="1296.2" width="4.9" height="12.0" rx="1.6"/><rect x="1827.71" y="1288.8" width="4.9" height="19.4" rx="1.6"/><rect x="207.0" y="1176.35" width="11.6" height="5.9" rx="1.8"/><rect x="207.0" y="1049.85" width="18.8" height="5.9" rx="1.8"/><rect x="207.0" y="923.35" width="11.6" height="5.9" rx="1.8"/><rect x="207.0" y="796.85" width="18.8" height="5.9" rx="1.8"/><rect x="207.0" y="670.35" width="11.6" height="5.9" rx="1.8"/><rect x="207.0" y="543.85" width="18.8" height="5.9" rx="1.8"/><rect x="207.0" y="417.35" width="11.6" height="5.9" rx="1.8"/><rect x="207.0" y="290.85" width="18.8" height="5.9" rx="1.8"/><rect x="207.0" y="164.35" width="11.6" height="5.9" rx="1.8"/></g>
<g fill="#000" shape-rendering="crispEdges"><rect x="205.0" y="38.0" width="1697.0" height="5"/><rect x="205.0" y="1304" width="1697.0" height="6"/><rect x="205.0" y="38.0" width="6" height="1272.0"/><rect x="1896" y="38.0" width="6" height="1272.0"/></g>
<path d="M452.2,1064.4 L476.0,1088.2 L452.2,1112.0 L428.4,1088.2 Z" fill="#fff" stroke="#000" stroke-width="3.8" stroke-linejoin="miter"/>
<path d="M448.9,1222.2 L472.7,1246.0 L448.9,1269.8 L425.09999999999997,1246.0 Z" fill="#fff" stroke="#000" stroke-width="3.8" stroke-linejoin="miter"/>
<path d="M404.2,179.89999999999998 L428.0,203.7 L404.2,227.5 L380.4,203.7 Z" fill="#fff" stroke="#000" stroke-width="3.8" stroke-linejoin="miter"/>
<rect x="318.8" y="333.9" width="122.3" height="7" rx="1.5" fill="#000"/>
<text id="y100" class="tk" transform="translate(191.2 66.1) scale(1.0 1.025)" text-anchor="end">100</text>
<text id="y80" class="tk" transform="translate(191.2 319.1) scale(1.0 1.025)" text-anchor="end">80</text>
<text id="y60" class="tk" transform="translate(191.2 572.1) scale(1.0 1.025)" text-anchor="end">60</text>
<text id="y40" class="tk" transform="translate(191.2 825.1) scale(1.0 1.025)" text-anchor="end">40</text>
<text id="y20" class="tk" transform="translate(191.2 1078.1) scale(1.0 1.025)" text-anchor="end">20</text>
<text id="y0" class="tk" transform="translate(191.2 1332.3) scale(1.0 1.025)" text-anchor="end">0</text>
<text id="x28" class="tk" transform="translate(380.3 1389.1) scale(1.0 1.025)" text-anchor="middle">28</text>
<text id="x30" class="tk" transform="translate(622.0 1389.1) scale(1.0 1.025)" text-anchor="middle">30</text>
<text id="x32" class="tk" transform="translate(863.6 1389.1) scale(1.0 1.025)" text-anchor="middle">32</text>
<text id="x34" class="tk" transform="translate(1105.2 1389.1) scale(1.0 1.025)" text-anchor="middle">34</text>
<text id="x36" class="tk" transform="translate(1346.9 1389.1) scale(1.0 1.025)" text-anchor="middle">36</text>
<text id="x38" class="tk" transform="translate(1588.5 1389.1) scale(1.0 1.025)" text-anchor="middle">38</text>
<text id="x40" class="tk" transform="translate(1830.2 1389.1) scale(1.0 1.025)" text-anchor="middle">40</text>
<text id="xl" class="tk" transform="translate(1011.9 1484.2) scale(0.9955 1.0)" text-anchor="middle">S content in charging material (%)</text>
<text id="yl" class="tk" transform="translate(73.4 673.5) rotate(-90)" text-anchor="middle">As distribution (%)</text>
<text id="lg1" class="lg" transform="translate(477.0 232.0) scale(0.996 1.0)">Industrial data of SKS process</text>
<text id="lg2" class="lg" transform="translate(460.4 360.0) scale(0.9885 1.0)">Present study</text>
<text id="gas" class="bl" transform="translate(478.3 902.6) scale(1.02 1.04)" fill="#000">gas</text>
<text id="slag" class="bl" transform="translate(247.6 1084.7) scale(1.025 1.02)" fill="#fff">slag</text>
<text id="matte" class="bl" transform="translate(234.4 1285.3) scale(1.022 1.045)" fill="#fff">matte</text>
</svg>
</body></html>
